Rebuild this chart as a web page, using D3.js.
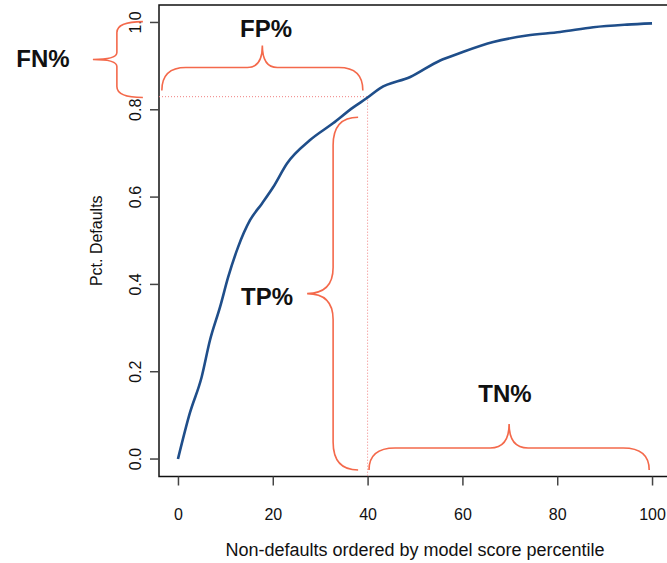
<!DOCTYPE html>
<html>
<head>
<meta charset="utf-8" />
<title>Pct. Defaults vs non-defaults percentile</title>
<script src="https://cdn.jsdelivr.net/npm/d3@7/dist/d3.min.js"></script>
<style>
body { margin: 0; background: #fff; }
text { font-family: "Liberation Sans", Arial, sans-serif; }
</style>
</head>
<body>
<svg id="chart" width="667" height="563"></svg>
<script>
// curve values
const pctNonDefaults = [0, 2.5, 5, 6.75, 8.9, 10.6, 12.7, 15.2, 17.7, 20.1, 23, 27.8, 32.7, 36.9, 40, 42.6, 49, 55.3, 59.5, 66.5, 73.6, 80.6, 87.6, 94.7, 100];
const pctDefaults = [0, 0.105, 0.188, 0.272, 0.349, 0.417, 0.486, 0.547, 0.585, 0.623, 0.677, 0.73, 0.769, 0.805, 0.828, 0.849, 0.875, 0.913, 0.93, 0.955, 0.97, 0.978, 0.989, 0.995, 0.998];
const xTicks = [0, 20, 40, 60, 80, 100];
const yTicks = [0, 0.2, 0.4, 0.6, 0.8, 1.0];
const cutoffX = 40;
const cutoffY = 0.83;

const braceLabels = ["FN%", "FP%", "TP%", "TN%"];

let svg = d3.select("#chart");

// R-style 4% padding on both axes
let x = d3.scaleLinear().domain([-4, 104]).range([159, 671]);
let y = d3.scaleLinear().domain([-0.04, 1.04]).range([476.5, 5]);

// box
svg.append("rect")
	.attr("x", x(-4)).attr("y", y(1.04))
	.attr("width", x(104) - x(-4)).attr("height", y(-0.04) - y(1.04))
	.attr("fill", "none").attr("stroke", "#111").attr("stroke-width", 1.5);

// x axis
let xAxis = svg.append("g").attr("transform", "translate(0," + y(-0.04) + ")")
	.call(d3.axisBottom(x).tickValues(xTicks).tickFormat(d3.format("d")).tickSize(9).tickPadding(23));
xAxis.select(".domain").remove();
xAxis.selectAll("line").attr("stroke", "#444").attr("stroke-width", 1.5);
xAxis.selectAll("text").attr("font-size", 16).attr("fill", "#111")
	.style("font-family", "'Liberation Sans', Arial, sans-serif");

// y axis (rotated labels, like R)
let yAxis = svg.append("g").attr("transform", "translate(" + x(-4) + ",0)");
yAxis.selectAll("line").data(yTicks).enter().append("line")
	.attr("x1", 0).attr("x2", -9)
	.attr("y1", d => y(d)).attr("y2", d => y(d))
	.attr("stroke", "#444").attr("stroke-width", 1.5);
yAxis.selectAll("text").data(yTicks).enter().append("text")
	.attr("transform", d => "translate(-18," + y(d) + ") rotate(-90)")
	.attr("text-anchor", "middle")
	.attr("font-size", 16).attr("fill", "#111")
	.text(d => d3.format(".1f")(d));

// axis titles
svg.append("text")
	.attr("x", (x(-4) + x(104)) / 2).attr("y", 556)
	.attr("text-anchor", "middle").attr("font-size", 18).attr("fill", "#111")
	.text("Non-defaults ordered by model score percentile");
svg.append("text")
	.attr("transform", "translate(102," + (y(-0.04) + y(1.04)) / 2 + ") rotate(-90)")
	.attr("text-anchor", "middle").attr("font-size", 16).attr("fill", "#111")
	.text("Pct. Defaults");

// cutoff guide lines
svg.append("line")
	.attr("x1", x(-4)).attr("x2", x(cutoffX))
	.attr("y1", y(cutoffY)).attr("y2", y(cutoffY))
	.attr("stroke", "#f08080").attr("stroke-width", 1).attr("stroke-dasharray", "1,2");
svg.append("line")
	.attr("x1", x(cutoffX)).attr("x2", x(cutoffX))
	.attr("y1", y(cutoffY)).attr("y2", y(-0.04))
	.attr("stroke", "#f08080").attr("stroke-width", 1).attr("stroke-dasharray", "1,2");

// curve
let line = d3.line().x((d, i) => x(pctNonDefaults[i])).y(d => y(d)).curve(d3.curveMonotoneX);
svg.append("path")
	.datum(pctDefaults)
	.attr("d", line)
	.attr("fill", "none").attr("stroke", "#1f4e8a").attr("stroke-width", 2.6)
	.attr("stroke-linejoin", "round");

// curly brace from p1 to p2, tip pointing along normal n
function brace(p1, p2, n, d1, d2, rEnd, rTip) {
	let L = Math.hypot(p2[0] - p1[0], p2[1] - p1[1]);
	let u = [(p2[0] - p1[0]) / L, (p2[1] - p1[1]) / L];
	let m = [(p1[0] + p2[0]) / 2, (p1[1] + p2[1]) / 2];
	let pt = (b, a, dn) => [b[0] + u[0] * a + n[0] * dn, b[1] + u[1] * a + n[1] * dn];
	let p = d3.path();
	p.moveTo(...p1);
	p.quadraticCurveTo(...pt(p1, 0, d1), ...pt(p1, rEnd, d1));
	p.lineTo(...pt(m, -rTip, d1));
	p.quadraticCurveTo(...pt(m, 0, d1), ...pt(m, 0, d2));
	p.quadraticCurveTo(...pt(m, 0, d1), ...pt(m, rTip, d1));
	p.lineTo(...pt(p2, -rEnd, d1));
	p.quadraticCurveTo(...pt(p2, 0, d1), ...p2);
	return p.toString();
}

let braces = [
	{ d: brace([x(-7.4), y(1.002)], [x(-7.4), y(0.828)], [-1, 0], 26, 50, 11, 7), label: braceLabels[0], lx: 43, ly: 67 },
	{ d: brace([x(-3.4), y(0.844)], [x(39), y(0.844)], [0, -1], 23, 45, 24, 15), label: braceLabels[1], lx: 266, ly: 37 },
	{ d: brace([x(38), y(0.783)], [x(38), y(-0.025)], [-1, 0], 25, 51, 28, 26), label: braceLabels[2], lx: 267, ly: 305 },
	{ d: brace([x(40.3), y(-0.025)], [x(99.4), y(-0.025)], [0, -1], 22, 46, 26, 19), label: braceLabels[3], lx: 505, ly: 402 }
];

svg.selectAll(".brace").data(braces).enter().append("path")
	.attr("class", "brace")
	.attr("d", d => d.d)
	.attr("fill", "none").attr("stroke", "#f4694b").attr("stroke-width", 1.6);

svg.selectAll(".blabel").data(braces).enter().append("text")
	.attr("class", "blabel")
	.attr("x", d => d.lx).attr("y", d => d.ly)
	.attr("text-anchor", "middle")
	.attr("font-size", 24).attr("font-weight", "bold").attr("fill", "#111")
	.text(d => d.label);
</script>
</body>
</html>
